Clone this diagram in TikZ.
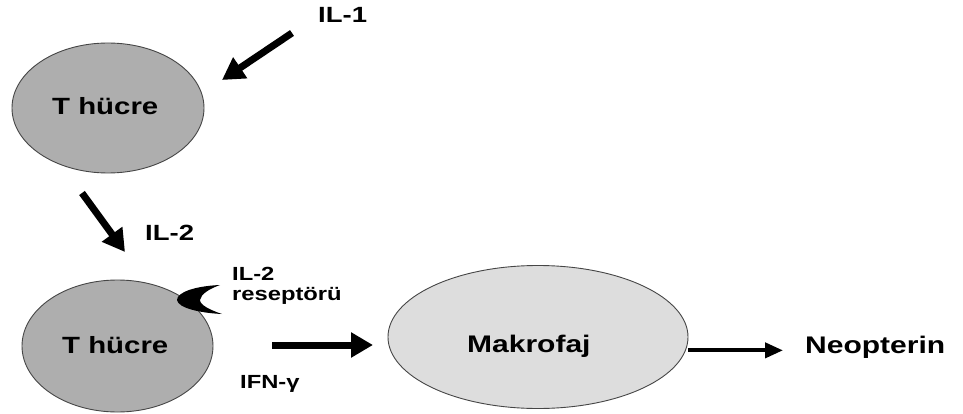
\documentclass[tikz,border=0pt]{standalone}
\usepackage{fontspec}
\setmainfont{Liberation Sans}[FakeStretch=1.25]
\usetikzlibrary{shapes.geometric,arrows.meta}
\definecolor{cellgray}{RGB}{174,174,174}
\definecolor{macgray}{RGB}{221,221,221}
\definecolor{edgegray}{RGB}{70,70,70}
\tikzset{
  cell/.style={ellipse, draw=edgegray, line width=0.9pt, inner sep=0pt},
  lbl/.style={inner sep=0pt, anchor=base west, font=\bfseries\fontsize{#1}{#1}\selectfont},
  bigarrow/.style={line width=7pt, -{Triangle[length=22pt,width=24pt]}},
  thinarrow/.style={line width=4pt, -{Triangle[length=18pt,width=15pt]}}
}
\begin{document}
\begin{tikzpicture}[x=1pt,y=-1pt]
\useasboundingbox[fill=white] (0,0) rectangle (963,414);
% cells
\node[cell, fill=cellgray, minimum width=192pt, minimum height=130pt] (t1) at (108,108) {};
\node[cell, fill=cellgray, minimum width=191pt, minimum height=132pt] (t2) at (117.5,346) {};
\node[cell, fill=macgray, minimum width=300pt, minimum height=143pt] (mak) at (538,337) {};
% receptor
\fill[black] (220,285) .. controls (196,286) and (177,292) .. (177,300)
  .. controls (178,308) and (200,313) .. (222,314)
  .. controls (210,310) and (200,305) .. (200,300)
  .. controls (201,294) and (209,289) .. (220,285) -- cycle;
% labels
\node[lbl=22] (il1) at (318,23) {IL-1};
\node[lbl=23.5] (t1txt) at (52,115) {T hücre};
\node[lbl=22] (il2) at (145,240) {IL-2};
\node[inner sep=0pt, anchor=north west, align=left, font=\bfseries\fontsize{19}{20}\selectfont] (rec) at (232,267) {IL-2\\reseptörü};
\node[lbl=23.5] (t2txt) at (62,353) {T hücre};
\node[lbl=19] (ifn) at (240,388) {IFN-γ};
\node[lbl=24] (maktxt) at (467,352) {Makrofaj};
\node[lbl=24] (neo) at (805,353) {Neopterin};
% arrow end points
\coordinate (a1s) at (292,33);
\coordinate (a1e) at (222,80);
\coordinate (a2s) at (82,193);
\coordinate (a2e) at (125,252);
\coordinate (a3s) at (272,345);
\coordinate (a3e) at (373,345);
% arrows
\draw[bigarrow] (a1s) -- (a1e);
\draw[bigarrow] (a2s) -- (a2e);
\draw[bigarrow] (a3s) -- (a3e);
\draw[thinarrow] (mak.east |- neo.mid west) -- ([xshift=-22pt]neo.mid west);
\end{tikzpicture}
\end{document}
